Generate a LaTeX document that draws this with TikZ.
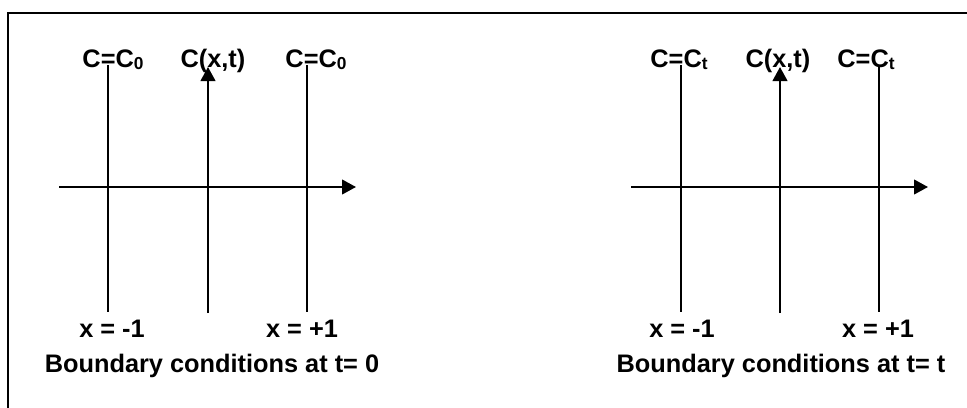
\documentclass[tikz,border=0pt]{standalone}
\usepackage{fontspec}
\setmainfont{Liberation Sans}
\usetikzlibrary{arrows.meta}
\newcommand\lowidx[1]{\raisebox{-1.5pt}{\fontsize{13}{14}\selectfont #1}}
\begin{document}
\begin{tikzpicture}[x=0.75pt,y=-0.75pt,
  lbl/.style={font=\bfseries\fontsize{19}{21}\selectfont, anchor=base, inner sep=0pt},
  vline/.style={line width=1.1pt},
  axis/.style={line width=1.6pt, -{Triangle[length=10.5pt,width=11pt]}},
  frame/.style={line width=1.5pt}]
\useasboundingbox (0,0) rectangle (967,407);
% frame (only top and left edges are visible)
\coordinate (fa) at (8,430);
\coordinate (fb) at (8,13);
\coordinate (fc) at (990,13);
\draw[frame] (fa) -- (fb) -- (fc);

% ---------- left panel ----------
\node[lbl] (clL) at (113,67) {C=C\lowidx{0}};
\node[lbl] (cmL) at (213,67) {C(x,t)};
\node[lbl] (crL) at (316,67) {C=C\lowidx{0}};
\node[lbl] (xlL) at (112,337) {x = -1};
\node[lbl] (xrL) at (302,337) {x = +1};
\node[lbl] (tL) at (212,372) {Boundary conditions at t= 0};
\coordinate (v1tL) at (108,65);  \coordinate (v1bL) at (108,312);
\coordinate (v2tL) at (307,65);  \coordinate (v2bL) at (307,312);
\coordinate (ybL) at (208,313);  \coordinate (ytL) at (208,67);
\coordinate (xaL) at (59,187);   \coordinate (xbL) at (356,187);
\draw[vline] (v1tL) -- (v1bL);
\draw[vline] (v2tL) -- (v2bL);
\draw[axis] (ybL) -- (ytL);
\draw[axis] (xaL) -- (xbL);

% ---------- right panel ----------
\node[lbl] (clR) at (679,67) {C=C\lowidx{t}};
\node[lbl] (cmR) at (778,67) {C(x,t)};
\node[lbl] (crR) at (866,67) {C=C\lowidx{t}};
\node[lbl] (xlR) at (682,337) {x = -1};
\node[lbl] (xrR) at (878,337) {x = +1};
\node[lbl] (tR) at (781,372) {Boundary conditions at t= t};
\coordinate (v1tR) at (681,65);  \coordinate (v1bR) at (681,312);
\coordinate (v2tR) at (879,65);  \coordinate (v2bR) at (879,312);
\coordinate (ybR) at (780,313);  \coordinate (ytR) at (780,67);
\coordinate (xaR) at (631,187);  \coordinate (xbR) at (928,187);
\draw[vline] (v1tR) -- (v1bR);
\draw[vline] (v2tR) -- (v2bR);
\draw[axis] (ybR) -- (ytR);
\draw[axis] (xaR) -- (xbR);
\end{tikzpicture}
\end{document}
